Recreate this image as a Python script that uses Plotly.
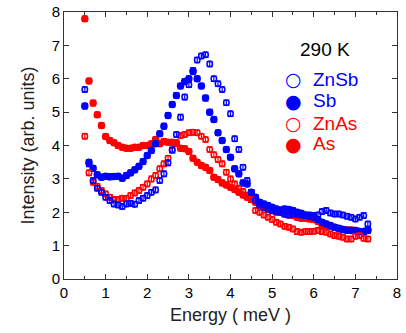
import plotly.graph_objects as go

energy = [0.5,0.6,0.7,0.8,0.9,1.0,1.1,1.2,1.3,1.4,1.5,1.6,1.7,1.8,1.9,2.0,2.1,2.2,2.3,2.4,
          2.5,2.6,2.7,2.8,2.9,3.0,3.1,3.2,3.3,3.4,3.5,3.6,3.7,3.8,3.9,4.0,4.1,4.2,4.3,4.4,
          4.5,4.6,4.7,4.8,4.9,5.0,5.1,5.2,5.3,5.4,5.5,5.6,5.7,5.8,5.9,6.0,6.1,6.2,6.3,6.4,
          6.5,6.6,6.7,6.8,6.9,7.0,7.1,7.2,7.3]

znsb = [5.68,3.45,2.95,2.72,2.60,2.45,2.35,2.25,2.22,2.17,2.25,2.27,2.24,2.35,2.42,2.50,2.60,2.67,2.95,3.15,
        3.48,3.87,4.33,4.85,5.45,5.82,6.25,6.56,6.68,6.72,6.44,6.00,5.85,5.68,5.28,4.95,4.20,3.88,3.35,2.95,
        2.60,2.35,2.22,2.15,2.10,2.05,2.02,2.00,1.95,1.92,1.95,1.95,1.92,1.90,1.92,1.90,1.92,2.02,2.05,1.98,
        1.95,1.95,1.92,1.88,1.85,1.80,1.85,1.90,1.65]

sb = [5.18,3.50,3.32,3.12,3.05,3.08,3.06,3.07,3.08,3.02,3.10,3.18,3.27,3.38,3.52,3.70,3.85,4.05,4.35,4.58,
      4.90,5.23,5.50,5.78,5.92,6.00,6.22,6.00,5.78,5.42,5.00,4.78,4.38,4.15,3.88,3.65,3.30,3.15,2.88,2.85,
      2.60,2.45,2.30,2.25,2.20,2.15,2.10,2.07,2.10,2.08,2.05,2.00,1.97,1.92,1.88,1.85,1.78,1.70,1.65,1.60,
      1.55,1.52,1.48,1.46,1.45,1.45,1.42,1.42,1.45]

znas = [4.28,3.18,2.90,2.78,2.65,2.55,2.45,2.38,2.38,2.42,2.42,2.50,2.58,2.65,2.75,2.85,3.00,3.10,3.30,3.45,
        3.62,3.85,4.05,4.30,4.33,4.38,4.40,4.38,4.28,4.18,3.88,3.72,3.58,3.45,3.20,3.00,2.85,2.72,2.62,2.50,
        2.38,2.05,2.00,1.92,1.85,1.78,1.70,1.65,1.58,1.55,1.50,1.42,1.40,1.42,1.42,1.43,1.45,1.42,1.40,1.35,
        1.30,1.28,1.25,1.20,1.20,1.28,1.30,1.22,1.20]

as_ = [7.80,5.93,5.27,4.92,4.60,4.27,4.15,4.08,4.00,3.95,3.92,3.92,3.95,3.95,4.00,4.00,4.05,4.18,4.05,4.12,
       4.10,4.10,4.08,3.92,3.90,3.82,3.62,3.50,3.40,3.35,3.25,3.05,2.98,2.88,2.82,2.75,2.68,2.60,2.52,2.45,
       2.38,2.30,2.22,2.15,2.10,2.05,2.00,2.00,1.95,1.92,1.90,1.85,1.82,1.82,1.80,1.78,1.72,1.62,1.60,1.58,
       1.55,1.50,1.48,1.47,1.47,1.45,1.42,1.42,1.48]

err = 0.08

BLUE = "#0000ff"
RED = "#ff0000"
FONT = "Liberation Sans, Arial, sans-serif"

series = [
    ("ZnSb", znsb, BLUE, True),
    ("Sb", sb, BLUE, False),
    ("ZnAs", znas, RED, True),
    ("As", as_, RED, False),
]

fig = go.Figure()
for name, vals, col, is_open in [series[3], series[1], series[2], series[0]]:
    fig.add_trace(go.Scatter(
        x=energy, y=vals, mode="markers", name=name, showlegend=False,
        marker=dict(symbol="circle-open" if is_open else "circle", size=5.5 if is_open else 6,
                    color=col, line=dict(width=1.5, color=col)),
        error_y=dict(type="constant", value=err, color=col, thickness=1.2, width=3),
    ))

# legend built from text annotations
fig.add_annotation(text="290 K", xref="paper", yref="paper", x=0.784, y=0.858,
                   xanchor="center", yanchor="middle", showarrow=False,
                   font=dict(size=19, color="black", family=FONT))
leg_y = [0.749, 0.667, 0.584, 0.506]
for (name, vals, col, is_open), yy in zip(series, leg_y):
    fig.add_annotation(text="○" if is_open else "●", xref="paper", yref="paper",
                       x=0.688, y=yy, xanchor="center", yanchor="middle", showarrow=False,
                       font=dict(size=19, color=col, family="DejaVu Sans"))
    fig.add_annotation(text=name, xref="paper", yref="paper",
                       x=0.743, y=yy, xanchor="left", yanchor="middle", showarrow=False,
                       font=dict(size=19, color=col, family=FONT))

axis_common = dict(showline=True, linecolor="#333", linewidth=1, mirror="ticks",
                   ticks="inside", ticklen=5, tickcolor="#333", showgrid=False, zeroline=False,
                   automargin=False, tickfont=dict(size=15, color="black", family=FONT))

fig.update_xaxes(range=[0, 8], dtick=1, tick0=0,
                 minor=dict(dtick=0.5, ticklen=3, ticks="inside", tickcolor="#333"),
                 title=dict(text="Energy ( meV )", font=dict(size=18, color="#222", family=FONT), standoff=8),
                 **axis_common)
fig.update_yaxes(range=[0, 8], dtick=1, tick0=0,
                 title=dict(text="Intensity (arb. units)", font=dict(size=18, color="#222", family=FONT), standoff=12),
                 **axis_common)

fig.update_layout(
    width=406, height=333,
    margin=dict(l=64, r=9, t=12, b=54),
    paper_bgcolor="white", plot_bgcolor="white",
    font=dict(family=FONT),
    showlegend=False,
)

fig.write_html("out.html")
